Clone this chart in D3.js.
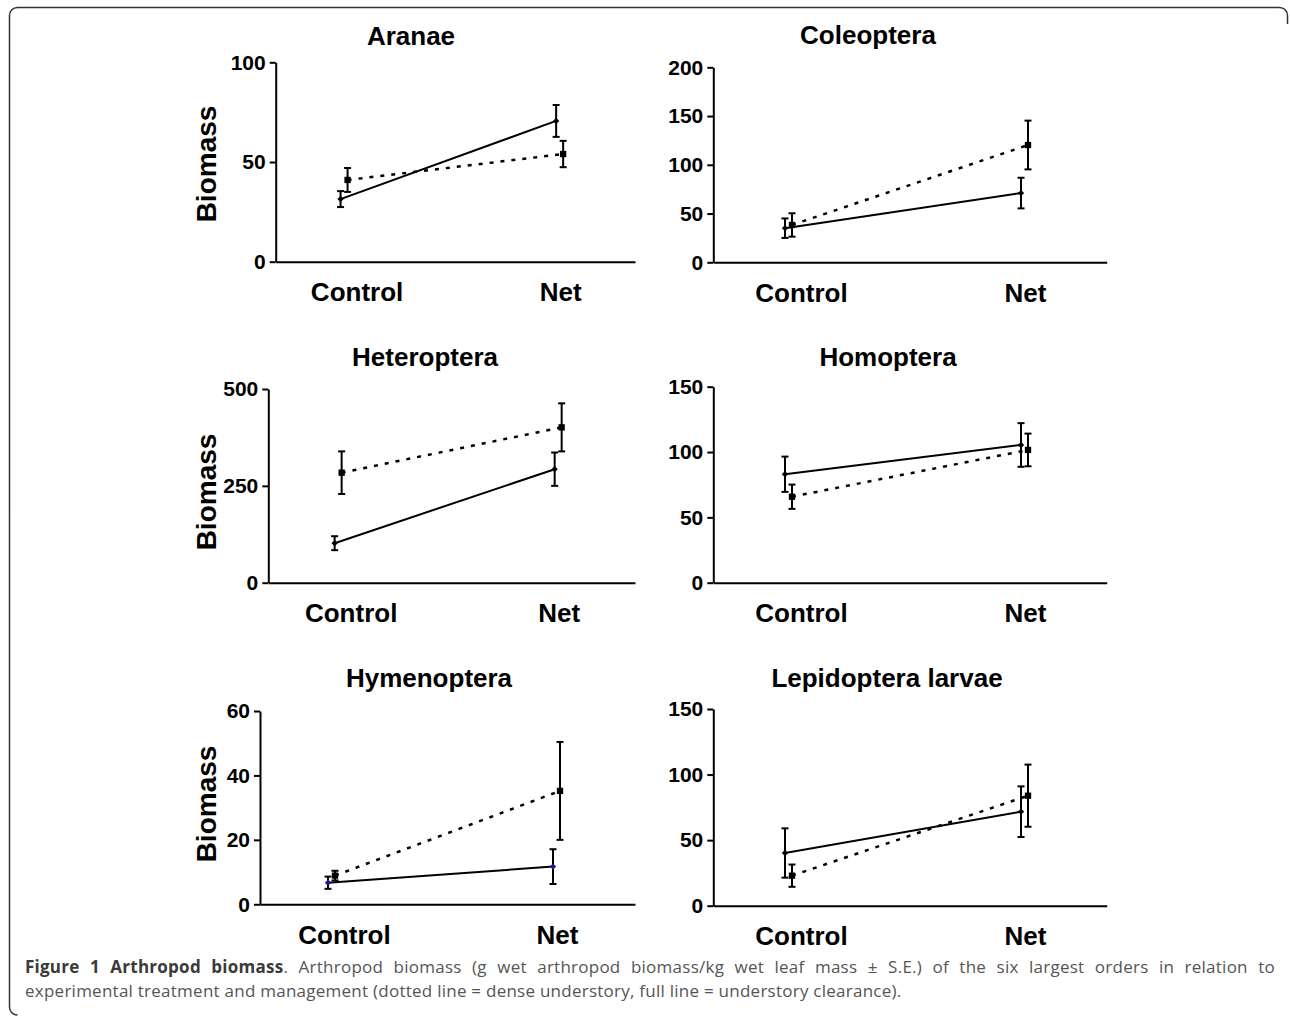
<!DOCTYPE html>
<html>
<head>
<meta charset="utf-8">
<script src="https://cdn.jsdelivr.net/npm/d3@7"></script>
<style>
  body { margin: 0; background: #fff; }
  svg { display: block; }
</style>
</head>
<body>
<div id="chart"></div>
<script>
// data
var categories = ["Control", "Net"];
var panelTitles = ["Aranae", "Coleoptera", "Heteroptera", "Homoptera", "Hymenoptera", "Lepidoptera larvae"];
var yMax = [100, 200, 500, 150, 60, 150];
var yStep = [50, 50, 250, 50, 20, 50];

// full line = understory clearance
var clearMean = [[31.4, 70.6], [35, 71], [102, 293], [83, 105.4], [6.7, 11.7], [40.2, 71.7]];
var clearSE = [[4, 8], [10, 15.7], [18, 43], [13.5, 16.7], [1.9, 5.4], [18.8, 19.3]];
// dotted line = dense understory
var denseMean = [[41, 54], [38.3, 120.3], [284, 401], [65.8, 101.6], [8.9, 35.2], [22.9, 83.9]];
var denseSE = [[6, 6.6], [12, 25], [55, 62], [9.3, 12.5], [1.5, 15.2], [8.5, 23.7]];

// layout of the six panels (pixels)
var layout = [
  {left: 275.7, right: 635, top: 62.3, bot: 261.7, tx: 411, ty: 45, ylab: 164},
  {left: 713.3, right: 1106.7, top: 67.3, bot: 262.3, tx: 868, ty: 44, ylab: null},
  {left: 268.3, right: 635, top: 389, bot: 582.7, tx: 425, ty: 366, ylab: 492},
  {left: 713.3, right: 1106.7, top: 386.7, bot: 582.7, tx: 888, ty: 366, ylab: null},
  {left: 260, right: 635, top: 711, bot: 904.3, tx: 429, ty: 687, ylab: 804},
  {left: 713.3, right: 1106.7, top: 709, bot: 905.7, tx: 887, ty: 687, ylab: null}
];
var clearColor = ["#000", "#000", "#000", "#000", "#1a1a8a", "#000"];
var labelShift = [9, -3];

var width = 1290, height = 1017;
var font = "'Liberation Sans', Arial, Helvetica, sans-serif";

var svg = d3.select("#chart").append("svg")
  .attr("width", width)
  .attr("height", height);

svg.append("rect").attr("width", width).attr("height", height).attr("fill", "#fff");

// rounded frame (only partly visible in the figure)
svg.append("path")
  .attr("d", "M 17.5,1015 A 8 8 0 0 1 9.5 1007 V 15.5 A 8 8 0 0 1 17.5 7.5 H 1279.5 A 8 8 0 0 1 1287.5 15.5 V 24")
  .attr("fill", "none")
  .attr("stroke", "#333")
  .attr("stroke-width", 1.5);

panelTitles.forEach(function (title, i) {
  var L = layout[i];
  var g = svg.append("g");

  var y = d3.scaleLinear().domain([0, yMax[i]]).range([L.bot, L.top]);
  var x = d3.scalePoint().domain(categories).range([L.left, L.right]).padding(1 / 3);

  // y axis
  var ya = g.append("g")
    .attr("transform", "translate(" + L.left + ",0)")
    .call(d3.axisLeft(y).tickValues(d3.range(0, yMax[i] + 1, yStep[i])).tickSize(6).tickSizeOuter(0).tickPadding(4));
  ya.selectAll("path, line").attr("stroke", "#000").attr("stroke-width", 2);
  ya.selectAll("text")
    .attr("font-family", font).attr("font-weight", "bold").attr("font-size", 21).attr("fill", "#000");

  // x axis
  var xa = g.append("g")
    .attr("transform", "translate(0," + L.bot + ")")
    .call(d3.axisBottom(x).tickSize(0).tickSizeOuter(0).tickPadding(21));
  xa.select(".domain").attr("stroke", "#000").attr("stroke-width", 2);
  xa.selectAll("text")
    .attr("font-family", font).attr("font-weight", "bold").attr("font-size", 26).attr("fill", "#000")
    .attr("dx", function (d, j) { return labelShift[j]; });

  // title
  g.append("text")
    .attr("x", L.tx).attr("y", L.ty)
    .attr("text-anchor", "middle")
    .attr("font-family", font).attr("font-weight", "bold").attr("font-size", 26)
    .text(title);

  if (L.ylab !== null) {
    g.append("text")
      .attr("transform", "translate(216," + L.ylab + ") rotate(-90)")
      .attr("text-anchor", "middle")
      .attr("font-family", font).attr("font-weight", "bold").attr("font-size", 28)
      .text("Biomass");
  }

  var series = [
    {mean: denseMean[i], se: denseSE[i], dx: 0, dash: "4,7", sym: "square", color: "#000"},
    {mean: clearMean[i], se: clearSE[i], dx: -7, dash: null, sym: "diamond", color: clearColor[i]}
  ];

  series.forEach(function (s) {
    var pts = categories.map(function (c, j) {
      return {cx: x(c) + s.dx, m: s.mean[j], e: s.se[j]};
    });

    g.append("path")
      .attr("d", d3.line().x(function (d) { return d.cx; }).y(function (d) { return y(d.m); })(pts))
      .attr("fill", "none")
      .attr("stroke", "#000")
      .attr("stroke-width", s.dash ? 2.5 : 2)
      .attr("stroke-dasharray", s.dash);

    // error bars
    var eb = g.selectAll(null).data(pts).enter().append("g");
    eb.append("line")
      .attr("x1", function (d) { return d.cx; }).attr("x2", function (d) { return d.cx; })
      .attr("y1", function (d) { return y(d.m - d.e); }).attr("y2", function (d) { return y(d.m + d.e); })
      .attr("stroke", "#000").attr("stroke-width", 2);
    [-1, 1].forEach(function (sg) {
      eb.append("line")
        .attr("x1", function (d) { return d.cx - 3.5; }).attr("x2", function (d) { return d.cx + 3.5; })
        .attr("y1", function (d) { return y(d.m + sg * d.e); }).attr("y2", function (d) { return y(d.m + sg * d.e); })
        .attr("stroke", "#000").attr("stroke-width", 2);
    });

    // markers
    g.selectAll(null).data(pts).enter().append("path")
      .attr("d", d3.symbol().type(d3.symbolSquare).size(s.sym === "square" ? 40 : 20)())
      .attr("transform", function (d) {
        return "translate(" + d.cx + "," + y(d.m) + ")" + (s.sym === "diamond" ? " rotate(45)" : "");
      })
      .attr("fill", s.color);
  });
});

// caption
var capFont = "'Open Sans', 'Noto Sans', sans-serif";
var cap1 = svg.append("text")
  .attr("x", 25).attr("y", 973)
  .attr("font-family", capFont).attr("font-size", 17).attr("letter-spacing", 0.25).attr("fill", "#555");
cap1.append("tspan").attr("font-weight", "bold").attr("fill", "#3a3a3a").text("Figure 1 Arthropod biomass");
cap1.append("tspan").text(". Arthropod biomass (g wet arthropod biomass/kg wet leaf mass \u00b1 S.E.) of the six largest orders in relation to");

// justify the first line
var w1 = cap1.node().getComputedTextLength();
var nSpaces = (cap1.text().match(/ /g) || []).length;
cap1.attr("word-spacing", Math.max(0, ((1275 - 25) - w1) / nSpaces));

svg.append("text")
  .attr("x", 25).attr("y", 997)
  .attr("font-family", capFont).attr("font-size", 17).attr("letter-spacing", 0.25).attr("fill", "#555")
  .text("experimental treatment and management (dotted line = dense understory, full line = understory clearance).");
</script>
</body>
</html>
